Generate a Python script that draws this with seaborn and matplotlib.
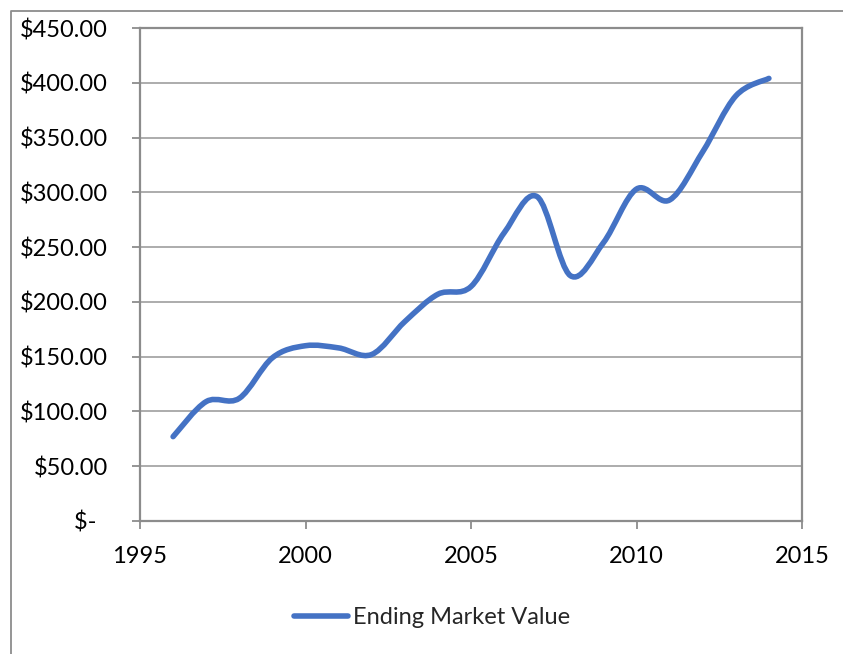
import matplotlib
matplotlib.use("Agg")
import matplotlib.pyplot as plt
import numpy as np
import pandas as pd
import seaborn as sns
from matplotlib.lines import Line2D
from matplotlib.path import Path
from matplotlib.patches import PathPatch

# values
years = [1996, 1997, 1998, 1999, 2000, 2001, 2002, 2003, 2004, 2005,
         2006, 2007, 2008, 2009, 2010, 2011, 2012, 2013, 2014]
market_value = [77, 109, 112, 149, 160, 158, 152, 182, 207, 214,
                263, 296, 224, 254, 303, 293, 337, 388, 404]
ytick_vals = [0, 50, 100, 150, 200, 250, 300, 350, 400, 450]
ytick_labels = ["$-  ", "$50.00", "$100.00", "$150.00", "$200.00", "$250.00",
                "$300.00", "$350.00", "$400.00", "$450.00"]
xtick_vals = [1995, 2000, 2005, 2010, 2015]
series_name = "Ending Market Value"

BLUE = "#4472C4"
GRID = "#A6A6A6"
AXIS = "#8C8C8C"


def smooth_path(x, y):
    # excel style smoothed line: cubic bezier through every point
    pts = np.column_stack([x, y]).astype(float)
    n = len(pts)
    verts = [pts[0]]
    codes = [Path.MOVETO]
    for i in range(n - 1):
        p0 = pts[max(i - 1, 0)]
        p1 = pts[i]
        p2 = pts[i + 1]
        p3 = pts[min(i + 2, n - 1)]
        c1 = p1 + (p2 - p0) / 6.0
        c2 = p2 - (p3 - p1) / 6.0
        verts += [c1, c2, p2]
        codes += [Path.CURVE4] * 3
    return Path(verts, codes)


def run():
    df = pd.DataFrame({"year": years, "value": market_value})

    sns.set_style("white")
    plt.rcParams["font.family"] = ["Lato", "DejaVu Sans"]

    fig = plt.figure(figsize=(8.43, 6.54), dpi=100)
    ax = fig.add_axes([140 / 843, 1 - 521 / 654, 662 / 843, 493 / 654])

    patch = PathPatch(smooth_path(df["year"], df["value"]), facecolor="none",
                      edgecolor=BLUE, lw=4, capstyle="round", joinstyle="round",
                      zorder=3)
    ax.add_patch(patch)

    ax.set_xlim(1995, 2015)
    ax.set_ylim(0, 450)
    ax.set_xticks(xtick_vals)
    ax.set_xticklabels([str(v) for v in xtick_vals])
    ax.set_yticks(ytick_vals)
    ax.set_yticklabels(ytick_labels)
    ax.yaxis.grid(True, color=GRID, lw=1.3)
    ax.set_axisbelow(True)
    for side in ["left", "bottom", "top", "right"]:
        ax.spines[side].set_visible(True)
        ax.spines[side].set_color(AXIS)
        ax.spines[side].set_linewidth(1.6)
    ax.tick_params(axis="both", which="both", direction="out", length=6,
                   width=1.3, color=AXIS, labelsize=17, labelcolor="black")
    ax.tick_params(axis="y", pad=17, left=True)
    ax.tick_params(axis="x", pad=12, bottom=True)
    ax.set_xlabel("")
    ax.set_ylabel("")

    handle = Line2D([0], [0], color=BLUE, lw=4, solid_capstyle="round")
    fig.legend([handle], [series_name], loc="center",
               bbox_to_anchor=(432 / 843, 1 - 618 / 654), frameon=False,
               fontsize=17, handlelength=2.3, handletextpad=0.2)

    # outer chart area border
    fig.add_artist(Line2D([11 / 843, 11 / 843, 1.0], [0.0, 1 - 11 / 654, 1 - 11 / 654],
                          transform=fig.transFigure, color=AXIS, lw=1.3))

    fig.savefig("out.png", dpi=100)
    plt.close(fig)


if __name__ == "__main__":
    run()
